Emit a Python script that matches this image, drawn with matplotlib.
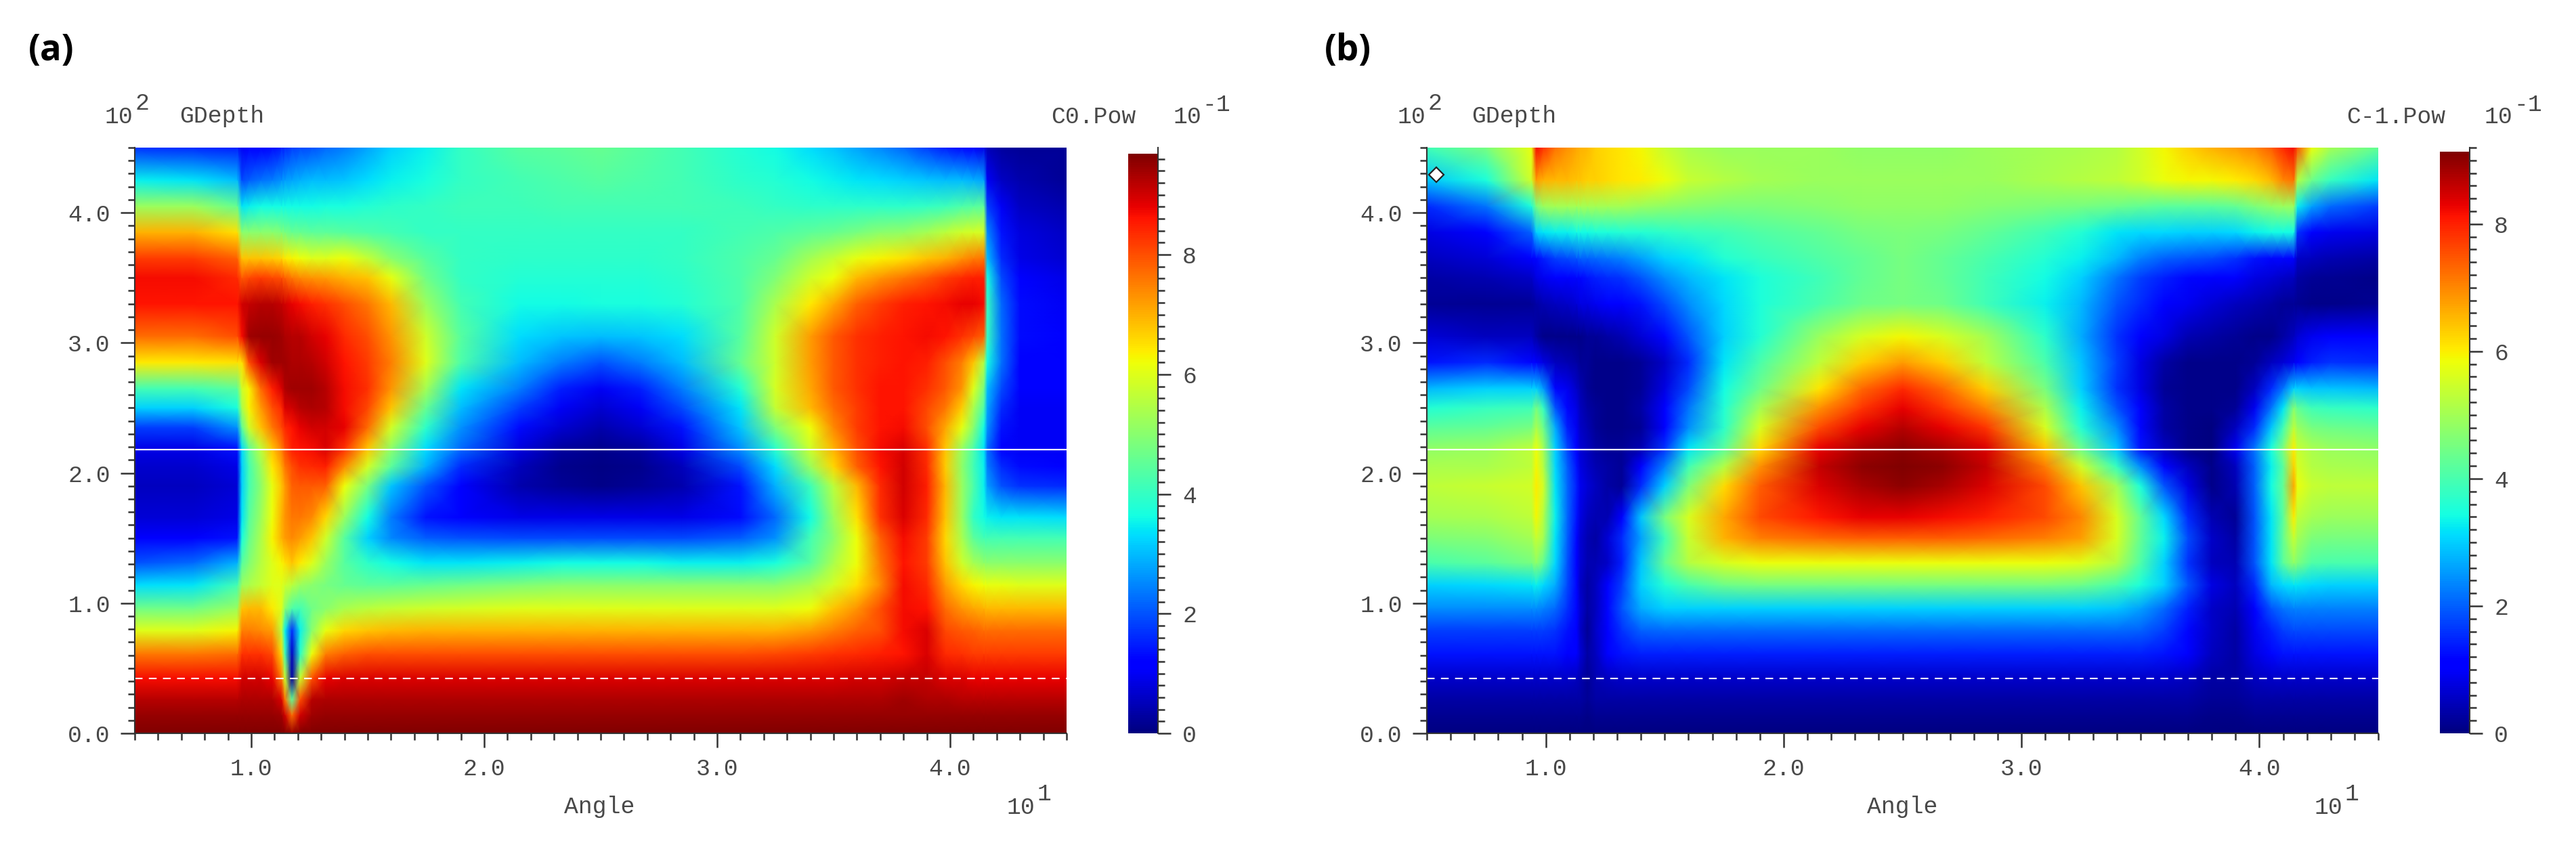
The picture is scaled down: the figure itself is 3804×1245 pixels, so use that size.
"""
Two grating power maps (C0.Pow and C-1.Pow) against Angle and GDepth.
"""
import matplotlib
matplotlib.use("Agg")
import matplotlib.pyplot as plt
from matplotlib.ticker import MultipleLocator
import numpy as np

W, H = 3805, 1245

angles = [5, 7.5, 9.4, 9.6, 9.9, 10.4, 10.9, 11.3, 11.45, 11.75, 12.1, 12.6, 13.2, 14, 15, 16, 17.5, 19, 21.5, 23.3,
          25, 26.7, 28.5, 31, 32.5, 34, 35, 36, 37, 38, 39, 39.8, 40.5, 41, 41.45, 41.6, 42.2, 43, 45]
depths = [0, 14, 26, 42, 61, 79, 96, 114, 131, 150, 166, 190, 205, 219, 235, 250, 265, 285, 305, 330, 350,
          365, 385, 405, 425, 450]

c0_power = [
    [9.7, 9.7, 9.7, 9.7, 9.7, 9.7, 9.7, 9.7, 9.7, 9.5, 9.7, 9.7, 9.7, 9.7, 9.7, 9.7, 9.7, 9.7, 9.7, 9.7, 9.7, 9.7, 9.7, 9.7, 9.7, 9.7, 9.7, 9.7, 9.7, 9.7, 9.7, 9.7, 9.7, 9.7, 9.7, 9.7, 9.7, 9.7, 9.7],
    [9.5, 9.5, 9.5, 9.5, 9.5, 9.5, 9.5, 9.4, 9.0, 7.7, 9.0, 9.4, 9.5, 9.5, 9.5, 9.5, 9.5, 9.5, 9.5, 9.5, 9.5, 9.5, 9.5, 9.5, 9.5, 9.5, 9.5, 9.5, 9.5, 9.5, 9.5, 9.5, 9.5, 9.5, 9.5, 9.5, 9.5, 9.5, 9.5],
    [9.2, 9.2, 9.2, 9.3, 9.3, 9.3, 9.3, 8.9, 7.6, 4.5, 8.0, 9.2, 9.3, 9.3, 9.3, 9.3, 9.3, 9.3, 9.3, 9.3, 9.3, 9.3, 9.3, 9.3, 9.3, 9.3, 9.3, 9.3, 9.3, 9.4, 9.3, 9.3, 9.2, 9.2, 9.2, 9.2, 9.2, 9.2, 9.2],
    [8.7, 8.7, 8.7, 9.0, 9.0, 9.0, 8.8, 7.6, 5.8, 0.3, 5.8, 8.0, 8.8, 8.9, 8.9, 8.9, 8.9, 8.9, 8.9, 8.9, 8.9, 8.9, 8.9, 8.9, 8.9, 8.9, 8.9, 9.0, 9.0, 9.1, 9.1, 8.9, 8.9, 8.8, 8.8, 8.8, 8.8, 8.8, 8.8],
    [7.6, 7.6, 7.7, 8.3, 8.3, 8.3, 8.1, 6.6, 4.2, 0.6, 3.9, 6.2, 7.5, 7.8, 8.0, 8.0, 8.0, 8.0, 8.0, 8.0, 8.0, 8.0, 8.0, 8.0, 8.1, 8.2, 8.3, 8.4, 8.5, 8.6, 8.9, 8.4, 8.3, 8.2, 8.2, 8.2, 8.2, 8.2, 8.2],
    [6.0, 6.0, 6.3, 7.5, 7.5, 7.4, 7.2, 5.6, 3.5, 1.6, 3.5, 5.0, 6.1, 6.6, 6.8, 6.9, 7.0, 7.0, 7.0, 7.0, 7.0, 7.0, 7.0, 7.0, 7.0, 7.2, 7.5, 7.8, 8.0, 8.7, 8.9, 8.1, 7.9, 7.8, 7.7, 7.7, 7.7, 7.7, 7.7],
    [4.7, 4.7, 5.2, 6.8, 6.9, 6.9, 6.4, 6.0, 5.0, 4.3, 4.2, 4.7, 5.0, 5.4, 5.6, 5.7, 5.8, 5.9, 6.0, 6.0, 6.0, 6.0, 6.0, 6.0, 6.0, 6.2, 6.8, 7.3, 8.0, 8.7, 8.6, 7.7, 7.3, 7.1, 7.0, 6.9, 6.9, 6.9, 6.9],
    [3.3, 3.4, 4.2, 5.2, 5.4, 5.7, 6.0, 6.0, 5.8, 5.6, 5.2, 5.0, 4.8, 4.6, 4.5, 4.5, 4.6, 4.7, 4.9, 5.0, 5.0, 5.0, 5.0, 5.0, 5.0, 5.4, 5.9, 6.5, 7.4, 8.7, 8.4, 7.2, 6.6, 6.3, 6.2, 6.1, 6.1, 6.0, 6.0],
    [2.0, 2.2, 2.9, 4.4, 4.9, 5.5, 6.0, 6.3, 6.5, 6.8, 6.4, 6.0, 5.2, 4.4, 3.9, 3.6, 3.4, 3.4, 3.5, 3.6, 3.6, 3.6, 3.5, 3.5, 3.7, 4.4, 5.4, 6.2, 7.6, 8.6, 8.2, 6.8, 5.8, 5.3, 5.1, 5.0, 5.0, 5.0, 5.0],
    [1.2, 1.2, 1.4, 3.7, 4.6, 5.4, 6.3, 7.0, 7.2, 7.4, 7.2, 6.8, 5.8, 4.4, 3.2, 2.5, 2.1, 2.0, 1.9, 1.9, 1.9, 1.9, 1.9, 2.1, 2.6, 4.2, 5.0, 6.2, 7.8, 8.7, 8.2, 6.6, 5.4, 4.5, 4.2, 4.2, 4.2, 4.2, 4.2],
    [0.75, 0.75, 0.9, 3.4, 4.4, 5.2, 6.2, 7.0, 7.3, 7.6, 7.6, 7.4, 6.6, 5.2, 3.6, 2.4, 1.4, 1.1, 0.9, 0.9, 0.9, 0.9, 0.9, 1.3, 2.2, 3.6, 5.2, 6.5, 8.3, 8.9, 8.4, 6.8, 5.2, 4.0, 3.6, 3.5, 3.4, 3.4, 3.3],
    [0.55, 0.55, 0.75, 3.2, 4.2, 5.0, 6.1, 6.8, 7.2, 7.8, 7.9, 7.9, 7.8, 6.2, 4.8, 3.1, 2.0, 1.1, 0.4, 0.2, 0.1, 0.2, 0.4, 1.4, 2.9, 4.1, 5.6, 6.9, 8.4, 9.0, 8.5, 6.9, 5.2, 4.3, 3.5, 2.7, 2.0, 1.7, 1.6],
    [0.65, 0.65, 0.9, 3.2, 4.2, 5.2, 6.4, 7.1, 7.6, 8.0, 8.3, 8.4, 8.5, 7.4, 5.9, 4.5, 2.9, 1.6, 0.5, 0.15, 0.05, 0.15, 0.5, 1.9, 3.3, 5.2, 6.6, 7.8, 8.6, 9.0, 8.4, 6.7, 5.1, 4.2, 3.5, 2.4, 1.6, 1.3, 1.2],
    [0.9, 0.9, 1.4, 3.3, 4.5, 5.6, 6.8, 7.5, 8.0, 8.5, 8.6, 8.7, 8.9, 8.3, 6.8, 5.1, 3.3, 2.2, 0.8, 0.3, 0.15, 0.3, 0.9, 2.6, 3.9, 5.8, 7.0, 8.0, 8.7, 8.9, 8.3, 6.8, 5.2, 4.3, 3.4, 2.2, 1.2, 1.0, 1.0],
    [1.8, 1.8, 2.6, 4.5, 5.8, 6.8, 7.6, 8.1, 8.4, 8.6, 8.8, 9.0, 9.0, 8.8, 7.7, 5.9, 3.9, 2.6, 1.3, 0.7, 0.4, 0.7, 1.4, 3.1, 4.9, 6.2, 7.4, 8.2, 8.6, 8.7, 8.0, 7.1, 6.1, 5.0, 3.6, 2.6, 1.4, 1.0, 1.0],
    [3.2, 3.2, 3.7, 5.4, 6.3, 7.2, 8.0, 8.4, 8.9, 9.0, 9.2, 9.3, 9.2, 8.7, 8.1, 6.8, 4.6, 3.0, 1.8, 1.0, 0.7, 1.0, 1.9, 3.4, 5.7, 6.9, 7.7, 8.2, 8.6, 8.6, 8.1, 7.6, 6.7, 5.4, 4.3, 2.8, 1.6, 1.0, 1.0],
    [4.2, 4.2, 4.5, 5.8, 6.3, 7.7, 8.5, 8.9, 9.3, 9.4, 9.4, 9.4, 9.2, 8.7, 8.3, 7.3, 5.3, 3.4, 2.4, 1.5, 1.0, 1.5, 2.4, 3.8, 5.9, 7.1, 7.9, 8.3, 8.6, 8.6, 8.3, 7.9, 7.3, 6.0, 4.8, 3.0, 1.9, 1.1, 1.1],
    [6.4, 6.4, 6.5, 6.5, 8.0, 8.9, 9.4, 9.4, 9.4, 9.3, 9.3, 9.2, 9.0, 8.6, 8.2, 7.5, 6.0, 4.3, 3.0, 2.4, 2.0, 2.4, 3.0, 4.6, 5.8, 7.2, 7.9, 8.3, 8.5, 8.6, 8.5, 8.0, 7.5, 6.8, 5.5, 3.6, 2.3, 1.2, 1.1],
    [7.7, 7.7, 8.0, 8.7, 9.4, 9.5, 9.5, 9.4, 9.3, 9.2, 9.2, 9.0, 8.8, 8.4, 8.0, 7.3, 5.8, 4.4, 3.3, 3.1, 3.0, 3.1, 3.3, 4.4, 5.8, 7.2, 7.9, 8.3, 8.5, 8.6, 8.7, 8.6, 8.3, 8.1, 7.8, 4.0, 2.3, 1.3, 1.1],
    [8.6, 8.6, 8.6, 9.0, 9.1, 9.2, 9.2, 9.1, 9.0, 8.8, 8.7, 8.5, 8.3, 8.0, 7.6, 6.9, 5.2, 4.2, 3.6, 3.6, 3.7, 3.7, 3.8, 4.3, 5.4, 6.4, 7.1, 7.8, 8.2, 8.5, 8.6, 8.7, 8.8, 8.8, 8.7, 4.0, 2.2, 1.3, 1.0],
    [8.7, 8.7, 8.4, 7.9, 8.1, 8.2, 8.1, 8.0, 7.8, 7.6, 7.4, 7.3, 7.2, 7.0, 6.8, 6.1, 4.7, 4.0, 3.8, 3.8, 3.8, 3.8, 3.9, 4.3, 4.9, 5.8, 6.2, 6.9, 7.3, 7.6, 7.9, 8.2, 8.4, 8.5, 8.5, 3.6, 1.9, 1.1, 0.9],
    [8.2, 8.2, 7.8, 6.8, 6.8, 6.8, 6.7, 6.6, 6.4, 6.3, 6.2, 6.0, 6.0, 6.2, 5.7, 5.0, 4.4, 4.0, 3.9, 3.9, 3.9, 3.9, 4.0, 4.3, 4.6, 5.3, 5.7, 6.1, 6.3, 6.5, 6.8, 7.0, 7.3, 7.5, 7.6, 3.0, 1.6, 0.9, 0.7],
    [7.0, 7.0, 6.5, 5.0, 5.0, 5.0, 5.0, 4.9, 4.8, 4.6, 4.6, 4.5, 4.5, 4.4, 4.3, 4.2, 4.0, 4.0, 4.0, 4.0, 4.0, 4.0, 4.0, 4.2, 4.3, 4.5, 4.6, 4.8, 5.0, 5.1, 5.3, 5.6, 5.8, 5.9, 5.9, 2.5, 1.4, 0.8, 0.6],
    [5.2, 5.2, 4.6, 3.4, 3.5, 3.6, 3.6, 3.6, 3.6, 3.6, 3.6, 3.6, 3.7, 3.7, 3.8, 3.9, 4.0, 4.1, 4.1, 4.2, 4.2, 4.2, 4.2, 4.1, 4.0, 3.9, 3.9, 3.9, 3.9, 3.9, 4.0, 4.1, 4.3, 4.4, 4.5, 1.8, 1.0, 0.6, 0.4],
    [3.5, 3.4, 3.0, 1.9, 2.1, 2.3, 2.4, 2.6, 2.7, 2.8, 2.9, 3.0, 3.0, 3.1, 3.3, 3.5, 3.7, 4.0, 4.2, 4.3, 4.4, 4.3, 4.2, 3.9, 3.8, 3.6, 3.5, 3.4, 3.3, 3.2, 3.1, 3.0, 3.0, 2.9, 2.8, 1.0, 0.6, 0.4, 0.2],
    [1.7, 1.6, 1.5, 1.0, 1.1, 1.2, 1.3, 1.5, 1.6, 1.8, 1.9, 2.0, 2.2, 2.4, 2.8, 3.2, 3.5, 4.0, 4.4, 4.5, 4.6, 4.4, 4.2, 3.8, 3.6, 3.3, 3.1, 2.8, 2.5, 2.2, 1.8, 1.5, 1.3, 1.2, 0.9, 0.5, 0.3, 0.2, 0.2],
]

c1_power = [
    [0.0, 0.0, 0.0, 0.0, 0.0, 0.0, 0.0, 0.0, 0.0, 0.0, 0.0, 0.0, 0.0, 0.0, 0.0, 0.0, 0.0, 0.0, 0.0, 0.0, 0.0, 0.0, 0.0, 0.0, 0.0, 0.0, 0.0, 0.0, 0.0, 0.0, 0.0, 0.0, 0.0, 0.0, 0.0, 0.0, 0.0, 0.0, 0.0],
    [0.15, 0.15, 0.15, 0.15, 0.15, 0.15, 0.15, 0.15, 0.15, 0.1, 0.15, 0.15, 0.15, 0.15, 0.15, 0.15, 0.15, 0.15, 0.15, 0.15, 0.15, 0.15, 0.15, 0.15, 0.15, 0.15, 0.15, 0.15, 0.15, 0.1, 0.1, 0.15, 0.15, 0.15, 0.15, 0.15, 0.15, 0.15, 0.15],
    [0.3, 0.3, 0.3, 0.3, 0.3, 0.3, 0.3, 0.3, 0.3, 0.2, 0.3, 0.3, 0.3, 0.3, 0.3, 0.3, 0.3, 0.3, 0.3, 0.3, 0.3, 0.3, 0.3, 0.3, 0.3, 0.3, 0.3, 0.3, 0.3, 0.2, 0.2, 0.3, 0.3, 0.3, 0.3, 0.3, 0.3, 0.3, 0.3],
    [0.6, 0.6, 0.6, 0.6, 0.6, 0.6, 0.6, 0.5, 0.4, 0.2, 0.4, 0.5, 0.6, 0.6, 0.6, 0.6, 0.6, 0.6, 0.6, 0.6, 0.6, 0.6, 0.6, 0.6, 0.6, 0.6, 0.6, 0.6, 0.5, 0.3, 0.3, 0.5, 0.6, 0.6, 0.6, 0.6, 0.6, 0.6, 0.6],
    [1.3, 1.3, 1.3, 1.3, 1.3, 1.3, 1.1, 1.0, 0.7, 0.3, 0.5, 1.0, 1.3, 1.4, 1.4, 1.4, 1.4, 1.4, 1.4, 1.4, 1.4, 1.4, 1.4, 1.4, 1.4, 1.4, 1.4, 1.3, 1.0, 0.5, 0.3, 0.8, 1.2, 1.3, 1.3, 1.3, 1.3, 1.3, 1.3],
    [1.7, 1.7, 1.7, 1.7, 1.7, 1.6, 1.3, 1.1, 0.6, 0.2, 0.6, 1.1, 1.6, 2.0, 2.1, 2.1, 2.1, 2.1, 2.1, 2.1, 2.1, 2.1, 2.1, 2.1, 2.1, 2.1, 2.0, 1.7, 1.2, 0.6, 0.3, 0.9, 1.4, 1.7, 1.8, 1.8, 1.8, 1.8, 1.8],
    [2.4, 2.4, 2.4, 2.4, 2.3, 2.1, 1.6, 1.2, 0.7, 0.3, 0.5, 1.2, 1.9, 2.7, 3.0, 3.0, 3.0, 3.0, 3.0, 3.0, 3.0, 3.0, 3.0, 3.0, 3.0, 2.9, 2.6, 2.1, 1.4, 0.6, 0.4, 1.1, 1.9, 2.2, 2.3, 2.3, 2.3, 2.3, 2.3],
    [3.0, 3.1, 3.2, 3.3, 3.1, 2.7, 1.8, 1.2, 0.6, 0.3, 0.5, 1.0, 1.7, 3.0, 3.6, 4.0, 4.4, 4.5, 4.5, 4.5, 4.5, 4.5, 4.5, 4.5, 4.4, 4.0, 3.5, 3.0, 1.9, 0.8, 0.5, 1.5, 2.8, 3.1, 3.2, 3.2, 3.1, 3.0, 3.0],
    [4.0, 4.2, 4.5, 4.8, 4.3, 3.1, 1.9, 1.1, 0.7, 0.4, 0.4, 0.6, 1.4, 2.9, 4.3, 5.2, 5.6, 5.8, 5.8, 5.8, 5.8, 5.8, 5.8, 5.8, 5.7, 5.2, 4.1, 3.0, 1.6, 0.5, 0.4, 1.9, 3.2, 4.2, 4.8, 4.6, 4.1, 4.0, 4.0],
    [4.6, 4.7, 5.0, 5.4, 5.0, 3.2, 2.0, 1.2, 0.7, 0.4, 0.3, 0.7, 1.5, 2.6, 3.9, 5.4, 6.6, 7.1, 7.3, 7.4, 7.4, 7.4, 7.3, 7.1, 6.8, 5.6, 4.3, 3.3, 1.8, 0.6, 0.3, 1.9, 3.2, 4.3, 5.4, 5.0, 4.6, 4.5, 4.5],
    [5.0, 5.1, 5.3, 5.9, 5.2, 3.3, 2.1, 1.3, 0.8, 0.5, 0.4, 0.4, 1.0, 2.9, 4.5, 5.6, 6.7, 7.6, 8.1, 8.3, 8.3, 8.2, 8.0, 7.6, 7.0, 5.6, 4.3, 3.1, 1.5, 0.4, 0.2, 1.9, 3.2, 4.2, 6.0, 5.3, 5.0, 4.9, 4.9],
    [5.3, 5.4, 5.5, 6.0, 5.5, 3.2, 2.1, 1.4, 0.9, 0.7, 0.5, 0.3, 0.2, 1.5, 3.0, 4.6, 6.2, 7.4, 8.4, 8.8, 9.0, 8.8, 8.4, 7.6, 6.4, 5.0, 3.5, 1.9, 0.8, 0.1, 0.4, 2.0, 3.4, 4.3, 6.7, 5.8, 5.4, 5.3, 5.3],
    [5.1, 5.1, 5.3, 5.9, 5.2, 3.1, 2.0, 1.3, 0.8, 0.6, 0.4, 0.3, 0.2, 1.0, 2.3, 3.9, 5.2, 6.9, 8.6, 9.0, 9.14, 9.0, 8.6, 7.1, 5.5, 3.8, 2.4, 1.2, 0.5, 0.1, 0.5, 2.0, 3.3, 4.2, 6.3, 5.6, 5.2, 5.1, 5.0],
    [4.8, 4.9, 5.3, 5.8, 5.0, 3.0, 1.8, 1.1, 0.7, 0.5, 0.3, 0.2, 0.2, 0.4, 1.6, 3.2, 4.2, 6.2, 8.3, 8.8, 9.0, 8.8, 8.4, 6.4, 4.4, 2.9, 1.3, 0.5, 0.1, 0.0, 0.9, 2.2, 3.5, 4.6, 6.0, 5.4, 5.1, 4.9, 4.8],
    [4.2, 4.3, 4.5, 5.1, 4.4, 2.7, 1.4, 0.9, 0.6, 0.4, 0.2, 0.1, 0.1, 0.2, 1.1, 2.4, 3.7, 5.6, 7.6, 8.3, 8.7, 8.3, 7.8, 5.6, 3.6, 2.4, 1.2, 0.3, 0.1, 0.0, 0.5, 1.5, 2.9, 3.9, 5.3, 4.9, 4.5, 4.4, 4.3],
    [3.6, 3.8, 3.9, 4.5, 3.8, 1.9, 1.2, 0.8, 0.5, 0.3, 0.2, 0.1, 0.1, 0.3, 1.0, 2.2, 3.6, 5.0, 6.9, 7.8, 8.3, 7.8, 7.0, 5.1, 3.3, 1.9, 1.1, 0.3, 0.1, 0.1, 0.2, 0.9, 2.2, 3.2, 4.7, 4.3, 3.9, 3.8, 3.7],
    [2.8, 3.0, 3.0, 3.0, 2.5, 1.2, 0.9, 0.6, 0.4, 0.2, 0.1, 0.1, 0.1, 0.2, 0.8, 1.8, 3.4, 4.4, 6.1, 7.3, 7.9, 7.3, 6.3, 4.5, 3.0, 1.6, 0.8, 0.2, 0.1, 0.1, 0.1, 0.5, 1.5, 2.2, 3.0, 3.0, 2.9, 2.9, 2.8],
    [1.3, 1.5, 1.2, 1.0, 0.8, 0.5, 0.4, 0.3, 0.2, 0.2, 0.1, 0.1, 0.1, 0.2, 0.6, 1.5, 3.2, 4.0, 5.3, 6.3, 6.8, 6.3, 5.3, 4.0, 2.9, 1.7, 0.8, 0.3, 0.1, 0.1, 0.1, 0.2, 0.5, 0.7, 0.9, 1.1, 1.4, 1.6, 1.5],
    [0.7, 0.5, 0.5, 0.3, 0.1, 0.1, 0.1, 0.1, 0.1, 0.2, 0.2, 0.3, 0.4, 0.7, 1.2, 1.9, 3.0, 3.6, 4.9, 5.6, 5.9, 5.6, 5.0, 3.7, 2.7, 1.6, 1.1, 0.8, 0.4, 0.3, 0.2, 0.1, 0.1, 0.3, 0.5, 0.7, 0.9, 1.0, 1.0],
    [0.2, 0.15, 0.2, 0.3, 0.4, 0.5, 0.6, 0.7, 0.8, 0.8, 0.9, 1.0, 1.1, 1.3, 1.8, 2.4, 3.1, 3.5, 4.0, 4.4, 4.5, 4.4, 3.9, 3.3, 2.8, 1.9, 1.5, 1.1, 0.9, 0.7, 0.5, 0.4, 0.3, 0.2, 0.2, 0.15, 0.1, 0.1, 0.15],
    [0.3, 0.4, 0.6, 0.8, 0.9, 1.0, 1.1, 1.2, 1.2, 1.3, 1.4, 1.5, 1.6, 1.9, 2.4, 2.8, 3.2, 3.5, 3.9, 4.3, 4.5, 4.3, 3.9, 3.4, 3.0, 2.2, 1.7, 1.4, 1.2, 1.1, 1.0, 0.8, 0.7, 0.6, 0.5, 0.3, 0.2, 0.15, 0.1],
    [0.5, 0.7, 1.0, 1.2, 1.4, 1.7, 1.8, 1.9, 2.0, 2.0, 2.1, 2.2, 2.3, 2.6, 3.0, 3.2, 3.6, 3.8, 4.1, 4.3, 4.5, 4.3, 4.0, 3.6, 3.3, 2.8, 2.3, 2.0, 1.9, 1.8, 1.6, 1.3, 1.2, 1.2, 1.0, 0.6, 0.5, 0.4, 0.3],
    [0.8, 1.1, 2.0, 3.0, 3.2, 3.3, 3.3, 3.4, 3.4, 3.4, 3.5, 3.5, 3.6, 3.6, 3.7, 3.8, 3.9, 4.1, 4.3, 4.5, 4.6, 4.5, 4.3, 3.9, 3.6, 3.2, 3.1, 3.1, 3.0, 3.0, 3.1, 3.3, 3.4, 3.4, 3.4, 1.6, 1.1, 0.9, 0.8],
    [1.5, 2.2, 3.5, 4.5, 4.9, 5.0, 5.0, 5.0, 5.0, 5.0, 5.0, 5.0, 5.0, 4.9, 4.8, 4.7, 4.6, 4.6, 4.7, 4.8, 4.8, 4.8, 4.7, 4.6, 4.5, 4.4, 4.3, 4.2, 4.2, 4.2, 4.3, 4.6, 4.8, 4.9, 4.9, 3.3, 2.6, 2.1, 1.7],
    [2.9, 3.5, 5.5, 6.8, 6.6, 6.5, 6.5, 6.4, 6.4, 6.3, 6.3, 6.2, 6.1, 6.0, 5.8, 5.4, 5.2, 5.0, 4.9, 4.9, 4.9, 4.9, 4.9, 5.1, 5.2, 5.3, 5.5, 5.8, 5.9, 5.9, 6.0, 6.2, 6.5, 7.0, 7.2, 5.2, 4.4, 3.8, 3.2],
    [3.9, 4.5, 5.8, 8.2, 7.8, 7.2, 6.9, 6.7, 6.6, 6.5, 6.3, 6.2, 6.1, 5.9, 5.4, 5.1, 4.9, 4.9, 4.9, 4.8, 4.8, 4.8, 4.9, 5.0, 5.1, 5.2, 5.5, 5.9, 6.3, 6.6, 6.8, 7.0, 7.4, 7.9, 8.2, 7.5, 5.8, 5.0, 4.3],
]

angle_ticks = [10, 20, 30, 40]
angle_labels = ["1.0", "2.0", "3.0", "4.0"]
depth_ticks = [0, 100, 200, 300, 400]
depth_labels = ["0.0", "1.0", "2.0", "3.0", "4.0"]
power_ticks = [0, 2, 4, 6, 8]
solid_depth = 218
dashed_depth = 42
marker_angle = [5.4]
marker_depth = [429]

TEXT = "#484848"
TICK = "#333333"
MONO = "Liberation Mono"


def px_axes(fig, x0, y0, x1, y1):
    return fig.add_axes([x0 / W, 1 - y1 / H, (x1 - x0) / W, (y1 - y0) / H])


def put(fig, x, y, s, size=25, ha="left", **kw):
    kw.setdefault("family", MONO)
    kw.setdefault("color", TEXT)
    fig.text(x / W, 1 - y / H, s, fontsize=size, ha=ha, va="center", **kw)


def style_ticks(ax, axis):
    ax.tick_params(axis=axis, which="major", length=15, width=1.8, color=TICK, labelsize=25,
                   labelcolor=TEXT, pad=11)
    ax.tick_params(axis=axis, which="minor", length=7.5, width=1.8, color=TICK)
    for lab in ax.get_xticklabels() + ax.get_yticklabels():
        lab.set_family(MONO)


def draw_panel(fig, box, cbox, values, vmax, cbar_top):
    ax = px_axes(fig, *box)
    mesh = ax.pcolormesh(angles, depths, np.array(values), shading="gouraud", cmap="jet", vmin=0, vmax=vmax)
    ax.set_xlim(5, 45)
    ax.set_ylim(0, 450)
    ax.set_xticks(angle_ticks, angle_labels)
    ax.set_yticks(depth_ticks, depth_labels)
    ax.xaxis.set_minor_locator(MultipleLocator(1))
    ax.yaxis.set_minor_locator(MultipleLocator(10))
    style_ticks(ax, "x")
    style_ticks(ax, "y")
    for side in ("top", "right"):
        ax.spines[side].set_visible(False)
    for side in ("left", "bottom"):
        ax.spines[side].set_color(TICK)
        ax.spines[side].set_linewidth(1.5)
    ax.axhline(solid_depth, color="white", lw=1.6)
    ax.axhline(dashed_depth, color="white", lw=1.5, ls=(0, (5.5, 4.5)))

    cax = px_axes(fig, *cbox)
    cb = fig.colorbar(mesh, cax=cax)
    cb.outline.set_visible(False)
    cax.set_ylim(0, cbar_top)
    cax.yaxis.set_ticks_position("right")
    cax.set_yticks(power_ticks, [str(t) for t in power_ticks])
    cax.yaxis.set_minor_locator(MultipleLocator(0.2))
    style_ticks(cax, "y")
    cax.tick_params(axis="y", which="major", length=14, pad=12)
    cax.spines["right"].set_visible(True)
    cax.spines["right"].set_color(TICK)
    cax.spines["right"].set_linewidth(1.5)
    return ax


fig = plt.figure(figsize=(W / 100, H / 100), dpi=100, facecolor="white")

ax_a = draw_panel(fig, (199, 218, 1575, 1083), (1666, 218, 1710, 1083), c0_power, 9.69, 9.79)
ax_b = draw_panel(fig, (2107, 218, 3512, 1083), (3603, 218, 3647, 1083), c1_power, 9.14, 9.2)
ax_b.plot(marker_angle, marker_depth, "D", ms=11, mfc="white", mec="#222222", mew=1.6, clip_on=False)

put(fig, 42, 75, "(a)", size=38, family="Open Sans", weight="bold", color="black")
put(fig, 1956, 75, "(b)", size=38, family="Open Sans", weight="bold", color="black")

for x_ten, x_name in [(155, 265), (2064, 2173)]:
    put(fig, x_ten, 172, "10")
    put(fig, x_ten + 45, 152, "2")
    put(fig, x_name, 172, "GDepth")

put(fig, 1552, 172, "C0.Pow")
put(fig, 1733, 172, "10")
put(fig, 1775, 154, "-1")
put(fig, 3465, 172, "C-1.Pow")
put(fig, 3669, 172, "10")
put(fig, 3712, 154, "-1")

put(fig, 885, 1192, "Angle", ha="center")
put(fig, 1487, 1192, "10")
put(fig, 1532, 1172, "1")
put(fig, 2809, 1192, "Angle", ha="center")
put(fig, 3418, 1192, "10")
put(fig, 3463, 1172, "1")

fig.savefig("out.png", dpi=100)
plt.close(fig)
